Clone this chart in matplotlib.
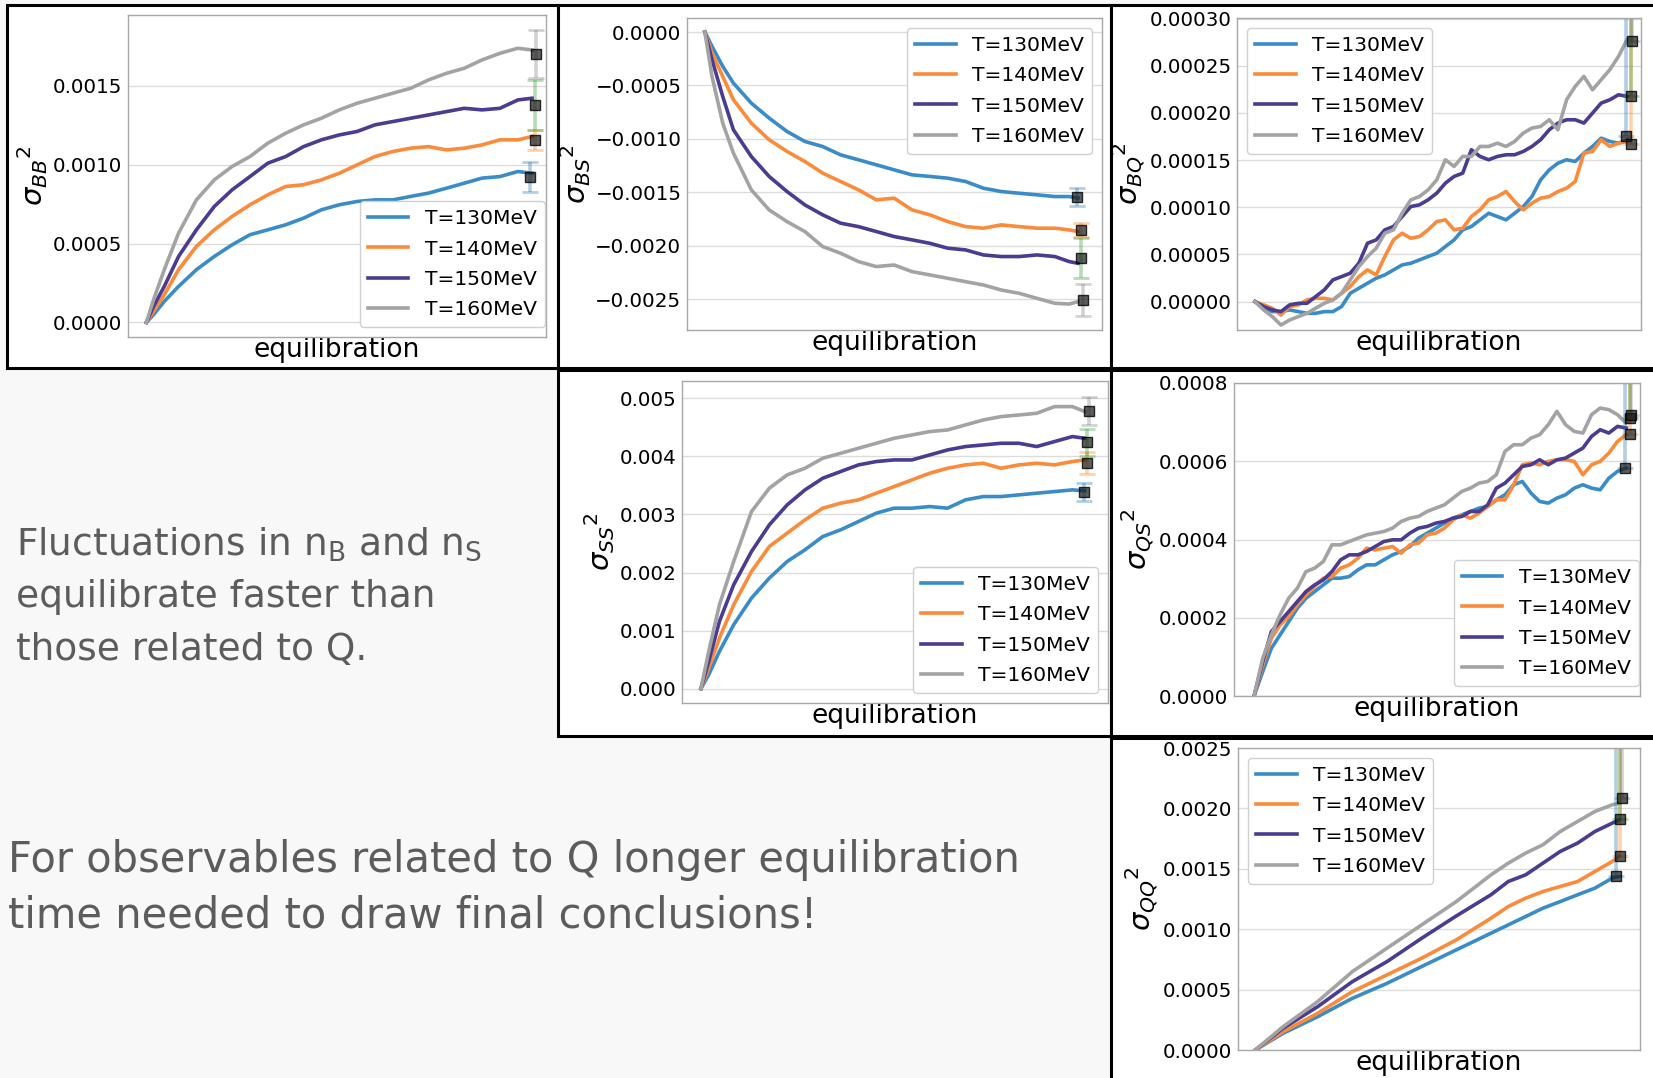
import matplotlib.pyplot as plt
from matplotlib.patches import Rectangle
from matplotlib.colors import to_rgba

temps = ['T=130MeV', 'T=140MeV', 'T=150MeV', 'T=160MeV']
line_cols = ['#3a8cc8', '#fb8b3a', '#4a3c90', '#a3a3a3']
err_cols = ['#1f77b4', '#ff7f0e', '#2ca02c', '#7f7f7f']

# sigma_BB^2
bb_x = [0, 20, 50, 90, 140, 190, 240, 290, 340, 390, 440, 490, 540, 590, 640, 690, 740, 790, 840, 890, 940, 990, 1040, 1080]
bb_130 = [0, 0.000049, 0.000133, 0.000228, 0.000334, 0.000418, 0.000492, 0.000556, 0.000587, 0.000619, 0.000661, 0.000714,
          0.000746, 0.000767, 0.000777, 0.000777, 0.000799, 0.000820, 0.000851, 0.000883, 0.000915, 0.000925, 0.000957, 0.000946]
bb_140 = [0, 0.000070, 0.000175, 0.000334, 0.000482, 0.000587, 0.000672, 0.000746, 0.000809, 0.000862, 0.000873, 0.000904,
          0.000946, 0.000999, 0.001052, 0.001084, 0.001105, 0.001115, 0.001094, 0.001105, 0.001126, 0.001158, 0.001158, 0.001179]
bb_150 = [0, 0.000101, 0.000228, 0.000418, 0.000587, 0.000735, 0.000841, 0.000925, 0.001010, 0.001052, 0.001115, 0.001158,
          0.001189, 0.001211, 0.001253, 0.001274, 0.001295, 0.001316, 0.001337, 0.001358, 0.001348, 0.001358, 0.001411, 0.001422]
bb_160 = [0, 0.000144, 0.000334, 0.000566, 0.000777, 0.000904, 0.000989, 0.001052, 0.001137, 0.001200, 0.001253, 0.001295,
          0.001348, 0.001390, 0.001422, 0.001454, 0.001485, 0.001538, 0.001580, 0.001612, 0.001665, 0.001707, 0.001739, 0.001728]
bb_end_x = [1075, 1087, 1087, 1090]
bb_end_y = [0.000925, 0.001158, 0.001380, 0.001703]
bb_end_err = [0.000095, 0.000063, 0.000158, 0.000152]

# sigma_BS^2
bs_x = [0, 20, 50, 80, 130, 180, 230, 280, 330, 380, 430, 480, 530, 580, 630, 680, 730, 780, 830, 880, 930, 980, 1020, 1045]
bs_130 = [0, -0.000134, -0.000321, -0.000478, -0.000665, -0.000805, -0.000930, -0.001024, -0.001071, -0.001149, -0.001195, -0.001242,
          -0.001289, -0.001336, -0.001351, -0.001367, -0.001398, -0.001461, -0.001492, -0.001508, -0.001523, -0.001539, -0.001539, -0.001554]
bs_140 = [0, -0.000197, -0.000415, -0.000634, -0.000852, -0.001008, -0.001117, -0.001211, -0.001320, -0.001398, -0.001476, -0.001570,
          -0.001554, -0.001664, -0.001710, -0.001773, -0.001820, -0.001835, -0.001804, -0.001820, -0.001835, -0.001835, -0.001851, -0.001866]
bs_150 = [0, -0.000259, -0.000602, -0.000915, -0.001164, -0.001351, -0.001492, -0.001617, -0.001710, -0.001788, -0.001820, -0.001866,
          -0.001913, -0.001944, -0.001976, -0.002022, -0.002038, -0.002085, -0.002100, -0.002100, -0.002085, -0.002100, -0.002147, -0.002163]
bs_160 = [0, -0.000415, -0.000852, -0.001133, -0.001476, -0.001664, -0.001773, -0.001866, -0.002007, -0.002069, -0.002147, -0.002194,
          -0.002179, -0.002241, -0.002272, -0.002303, -0.002335, -0.002366, -0.002413, -0.002444, -0.002491, -0.002537, -0.002544, -0.002522]
bs_end_x = [1042, 1053, 1053, 1058]
bs_end_y = [-0.001539, -0.001851, -0.002116, -0.002506]
bs_end_err = [0.000084, 0.000062, 0.000187, 0.000147]

# sigma_BQ^2
bq_x = [0, 25, 50, 75, 100, 125, 150, 175, 200, 225, 250, 275, 300, 325, 350, 375, 400, 425, 450, 475, 500, 525,
        550, 575, 600, 625, 650, 675, 700, 725, 750, 775, 800, 825, 850, 875, 900, 925, 950, 975, 1000, 1025, 1050, 1075]
bq_130 = [0, -0.0000071, -0.0000106, -0.0000106, -0.0000088, -0.0000106, -0.0000124, -0.0000124, -0.0000106, -0.0000106, -0.0000053,
          0.0000088, 0.0000142, 0.0000195, 0.0000248, 0.0000283, 0.0000336, 0.0000389, 0.0000407, 0.0000442, 0.0000478, 0.0000513,
          0.0000584, 0.0000654, 0.0000761, 0.0000796, 0.0000867, 0.0000937, 0.0000902, 0.0000867, 0.0000937, 0.0001008, 0.0001114,
          0.0001291, 0.0001397, 0.0001468, 0.0001504, 0.0001486, 0.0001574, 0.0001645, 0.0001733, 0.0001698, 0.0001680, 0.0001716]
bq_140 = [0, -0.0000035, -0.0000071, -0.0000142, -0.0000053, -0.0000035, 0.0000018, 0.0000035, 0.0000035, 0.0000018, 0.0000088,
          0.0000159, 0.0000265, 0.0000336, 0.0000283, 0.0000478, 0.0000654, 0.0000725, 0.0000672, 0.0000690, 0.0000761, 0.0000849,
          0.0000867, 0.0000761, 0.0000778, 0.0000902, 0.0000973, 0.0001079, 0.0001114, 0.0001167, 0.0001061, 0.0000973, 0.0001044,
          0.0001097, 0.0001114, 0.0001167, 0.0001203, 0.0001274, 0.0001574, 0.0001592, 0.0001716, 0.0001645, 0.0001680, 0.0001698]
bq_150 = [0, -0.0000053, -0.0000088, -0.0000106, -0.0000035, -0.0000018, -0.0000018, 0.0000053, 0.0000124, 0.0000230, 0.0000265,
          0.0000301, 0.0000407, 0.0000619, 0.0000654, 0.0000761, 0.0000796, 0.0000902, 0.0001008, 0.0001026, 0.0001079, 0.0001150,
          0.0001256, 0.0001327, 0.0001362, 0.0001610, 0.0001539, 0.0001504, 0.0001539, 0.0001557, 0.0001557, 0.0001592, 0.0001645,
          0.0001716, 0.0001822, 0.0001893, 0.0001928, 0.0001928, 0.0001893, 0.0001999, 0.0002105, 0.0002140, 0.0002193, 0.0002176]
bq_160 = [0, -0.0000088, -0.0000159, -0.0000248, -0.0000195, -0.0000159, -0.0000124, -0.0000071, -0.0000018, 0.0000018, 0.0000088,
          0.0000230, 0.0000371, 0.0000478, 0.0000566, 0.0000725, 0.0000761, 0.0000937, 0.0001079, 0.0001114, 0.0001185, 0.0001291,
          0.0001504, 0.0001433, 0.0001539, 0.0001539, 0.0001645, 0.0001645, 0.0001680, 0.0001645, 0.0001698, 0.0001787, 0.0001840,
          0.0001857, 0.0001928, 0.0001822, 0.0002140, 0.0002282, 0.0002388, 0.0002246, 0.0002353, 0.0002459, 0.0002600, 0.0002777]
bq_end_x = [1073, 1085, 1085, 1090]
bq_end_y = [0.0001751, 0.0001673, 0.0002176, 0.0002759]
bq_end_err = [0.0005, 0.0005, 0.0005, 0.0005]

# sigma_SS^2
ss_x = [0, 22, 52, 92, 142, 192, 242, 292, 342, 392, 442, 492, 542, 592, 642, 692, 742, 792, 842, 892, 942, 992, 1042, 1077]
ss_130 = [0, 0.000241, 0.000642, 0.001101, 0.001560, 0.001904, 0.002190, 0.002391, 0.002620, 0.002735, 0.002878, 0.003022,
          0.003108, 0.003108, 0.003136, 0.003108, 0.003251, 0.003308, 0.003308, 0.003337, 0.003366, 0.003394, 0.003423, 0.003406]
ss_140 = [0, 0.000356, 0.000872, 0.001445, 0.002018, 0.002448, 0.002678, 0.002907, 0.003108, 0.003194, 0.003251, 0.003366,
          0.003480, 0.003595, 0.003710, 0.003796, 0.003853, 0.003882, 0.003796, 0.003853, 0.003882, 0.003853, 0.003911, 0.003939]
ss_150 = [0, 0.000470, 0.001158, 0.001789, 0.002362, 0.002821, 0.003165, 0.003423, 0.003624, 0.003739, 0.003853, 0.003911,
          0.003939, 0.003939, 0.004025, 0.004111, 0.004169, 0.004197, 0.004226, 0.004226, 0.004169, 0.004255, 0.004341, 0.004312]
ss_160 = [0, 0.000642, 0.001445, 0.002190, 0.003050, 0.003452, 0.003681, 0.003796, 0.003968, 0.004054, 0.004140, 0.004226,
          0.004312, 0.004369, 0.004427, 0.004455, 0.004541, 0.004627, 0.004685, 0.004713, 0.004742, 0.004857, 0.004857, 0.004771]
ss_end_x = [1074, 1084, 1084, 1089]
ss_end_y = [0.003383, 0.003882, 0.004243, 0.004782]
ss_end_err = [0.000155, 0.000189, 0.000229, 0.000247]

# sigma_QS^2
qs_x = bq_x
qs_130 = [0, 0.0000623, 0.0001220, 0.0001561, 0.0001902, 0.0002243, 0.0002499, 0.0002670, 0.0002840, 0.0003011, 0.0003011,
          0.0003053, 0.0003224, 0.0003352, 0.0003352, 0.0003480, 0.0003608, 0.0003693, 0.0003821, 0.0004034, 0.0004162, 0.0004290,
          0.0004418, 0.0004546, 0.0004631, 0.0004716, 0.0004802, 0.0004844, 0.0005015, 0.0005143, 0.0005399, 0.0005484, 0.0005186,
          0.0004972, 0.0004930, 0.0005058, 0.0005143, 0.0005313, 0.0005399, 0.0005313, 0.0005271, 0.0005569, 0.0005740, 0.0005825]
qs_140 = [0, 0.0000793, 0.0001475, 0.0001817, 0.0002030, 0.0002328, 0.0002584, 0.0002797, 0.0003011, 0.0003053, 0.0003267,
          0.0003352, 0.0003522, 0.0003778, 0.0003736, 0.0003778, 0.0003821, 0.0003650, 0.0003864, 0.0003906, 0.0004119, 0.0004162,
          0.0004290, 0.0004503, 0.0004631, 0.0004546, 0.0004674, 0.0004844, 0.0005015, 0.0005015, 0.0005399, 0.0005910, 0.0005953,
          0.0005910, 0.0005996, 0.0006038, 0.0006038, 0.0005996, 0.0005655, 0.0005910, 0.0005996, 0.0006209, 0.0006507, 0.0006678]
qs_150 = [0, 0.0000878, 0.0001646, 0.0001902, 0.0002158, 0.0002414, 0.0002670, 0.0002840, 0.0002968, 0.0003181, 0.0003480,
          0.0003608, 0.0003608, 0.0003693, 0.0003821, 0.0003949, 0.0003991, 0.0003991, 0.0004162, 0.0004290, 0.0004333, 0.0004418,
          0.0004461, 0.0004546, 0.0004589, 0.0004716, 0.0004716, 0.0004887, 0.0005313, 0.0005441, 0.0005655, 0.0005868, 0.0005910,
          0.0006038, 0.0005910, 0.0006038, 0.0006081, 0.0006209, 0.0006337, 0.0006635, 0.0006806, 0.0006721, 0.0006891, 0.0006849]
qs_160 = [0, 0.0000964, 0.0001561, 0.0002072, 0.0002499, 0.0002755, 0.0003181, 0.0003267, 0.0003437, 0.0003864, 0.0003864,
          0.0003949, 0.0004034, 0.0004119, 0.0004162, 0.0004205, 0.0004290, 0.0004461, 0.0004546, 0.0004589, 0.0004716, 0.0004802,
          0.0004887, 0.0005058, 0.0005228, 0.0005313, 0.0005441, 0.0005484, 0.0005655, 0.0006252, 0.0006422, 0.0006422, 0.0006593,
          0.0006678, 0.0006934, 0.0007275, 0.0006934, 0.0006763, 0.0006721, 0.0007190, 0.0007360, 0.0007318, 0.0007190, 0.0006977]
qs_end_x = [1073, 1085, 1085, 1090]
qs_end_y = [0.0005825, 0.0006704, 0.0007104, 0.0007190]
qs_end_err = [0.0012, 0.0012, 0.0012, 0.0012]

# sigma_QQ^2
qq_x = [0, 80, 180, 280, 380, 480, 580, 680, 730, 780, 830, 880, 930, 980, 1030, 1050]
qq_130 = [0, 0.000138, 0.000276, 0.000428, 0.000552, 0.000691, 0.000829, 0.000967, 0.001036, 0.001105, 0.001174, 0.001229,
          0.001285, 0.001340, 0.001423, 0.001436]
qq_140 = [0, 0.000152, 0.000304, 0.000483, 0.000622, 0.000760, 0.000912, 0.001091, 0.001188, 0.001257, 0.001312, 0.001354,
          0.001395, 0.001478, 0.001561, 0.001602]
qq_150 = [0, 0.000180, 0.000359, 0.000566, 0.000732, 0.000925, 0.001110, 0.001285, 0.001395, 0.001450, 0.001547, 0.001644,
          0.001713, 0.001809, 0.001878, 0.001906]
qq_160 = [0, 0.000193, 0.000401, 0.000649, 0.000843, 0.001036, 0.001229, 0.001450, 0.001547, 0.001630, 0.001699, 0.001809,
          0.001892, 0.001975, 0.002030, 0.002044]
qq_end_x = [1042, 1053, 1053, 1058]
qq_end_y = [0.001442, 0.001608, 0.001914, 0.002086]
qq_end_err = [0.003, 0.003, 0.003, 0.003]

W, H = 1653, 1078
fig = plt.figure(figsize=(W / 100, H / 100), dpi=100)
fig.patch.set_facecolor('#f8f8f8')


def px_rect(l, t, r, b):
    return [l / W, 1 - b / H, (r - l) / W, (b - t) / H]


# white framed boxes behind each plot
for l, t, r, b in [(7, 5, 558, 368), (558, 5, 1111, 368), (1111, 5, 1665, 368),
                   (558, 370, 1111, 736), (1111, 370, 1665, 736), (1111, 738, 1665, 1095)]:
    x0, y0, w, h = px_rect(l, t, r, b)
    fig.add_artist(Rectangle((x0, y0), w, h, transform=fig.transFigure, fc='white',
                             ec='black', lw=2.2, zorder=-1))


def panel(rect, x, series, ex, ey, eerr, ylab, yticks, ylim, xlim, legloc, upper_only=False, flush=False):
    ax = fig.add_axes(px_rect(*rect))
    for y, c, lab in zip(series, line_cols, temps):
        ax.plot(x, y, color=c, lw=2.6, label=lab)
    for i in range(4):
        yerr = [[0], [eerr[i]]] if upper_only else eerr[i]
        ax.errorbar(ex[i], ey[i], yerr=yerr, fmt='s', ms=6.5, mfc=(0.1, 0.1, 0.1, 0.7),
                    mec=(0, 0, 0, 0.8), ecolor=to_rgba(err_cols[i], 0.35), elinewidth=2.6,
                    capsize=5.5, capthick=2)
    ax.set_xlim(xlim)
    ax.set_ylim(ylim)
    ax.set_xticks([])
    ax.set_yticks(yticks)
    ax.tick_params(axis='y', length=0, labelsize=14.3, pad=4)
    ax.grid(axis='y', color='#dcdcdc', lw=1)
    ax.set_axisbelow(True)
    for s in ax.spines.values():
        s.set_color('#a8a8a8')
        s.set_linewidth(1)
    ax.set_xlabel('equilibration', fontsize=19, labelpad=0)
    ax.set_ylabel(ylab, fontsize=21, labelpad=2)
    leg_kw = dict(fontsize=14.6, labelspacing=0.55, frameon=True, edgecolor='#d0d0d0', framealpha=1)
    if flush:
        # legend pushed against the right frame, small gap at the bottom
        hpx = rect[3] - rect[1]
        ax.legend(loc='lower right', bbox_to_anchor=(0.997, 10 / hpx), borderaxespad=0, **leg_kw)
    else:
        ax.legend(loc=legloc, **leg_kw)
    return ax


panel((127.5, 15, 546, 337), bb_x, [bb_130, bb_140, bb_150, bb_160], bb_end_x, bb_end_y, bb_end_err,
      r'${\sigma_{BB}}^2$', [0, 0.0005, 0.0010, 0.0015], (-0.000093, 0.00195), (-53, 1119), 'lower right',
      flush=True)
panel((687, 18, 1102, 330), bs_x, [bs_130, bs_140, bs_150, bs_160], bs_end_x, bs_end_y, bs_end_err,
      r'${\sigma_{BS}}^2$', [-0.0025, -0.0020, -0.0015, -0.0010, -0.0005, 0], (-0.002787, 0.000131), (-50, 1112),
      'upper right')
panel((1237, 18, 1641, 330), bq_x, [bq_130, bq_140, bq_150, bq_160], bq_end_x, bq_end_y, bq_end_err,
      r'${\sigma_{BQ}}^2$', [0, 0.00005, 0.0001, 0.00015, 0.0002, 0.00025, 0.0003], (-0.0000301, 0.0003007),
      (-52, 1115), 'upper left', upper_only=True)
panel((682, 381, 1108, 703), ss_x, [ss_130, ss_140, ss_150, ss_160], ss_end_x, ss_end_y, ss_end_err,
      r'${\sigma_{SS}}^2$', [0, 0.001, 0.002, 0.003, 0.004, 0.005], (-0.000247, 0.005298), (-53, 1142), 'lower right')
panel((1234, 383, 1640, 696), qs_x, [qs_130, qs_140, qs_150, qs_160], qs_end_x, qs_end_y, qs_end_err,
      r'${\sigma_{QS}}^2$', [0, 0.0002, 0.0004, 0.0006, 0.0008], (0, 0.0008), (-58, 1115), 'lower right',
      upper_only=True, flush=True)
panel((1238, 748, 1640, 1050), qq_x, [qq_130, qq_140, qq_150, qq_160], qq_end_x, qq_end_y, qq_end_err,
      r'${\sigma_{QQ}}^2$', [0, 0.0005, 0.001, 0.0015, 0.002, 0.0025], (0, 0.0025), (-50, 1110), 'upper left',
      upper_only=True)

txt = dict(family=['DejaVu Sans'], color='#5c5c5c', transform=fig.transFigure, va='baseline')
fig.text(16 / W, 1 - 555 / H, r'Fluctuations in n$_\mathregular{B}$ and n$_\mathregular{S}$', fontsize=27, **txt)
fig.text(16 / W, 1 - 607 / H, 'equilibrate faster than', fontsize=27, **txt)
fig.text(16 / W, 1 - 660 / H, 'those related to Q.', fontsize=27, **txt)
fig.text(8 / W, 1 - 872 / H, 'For observables related to Q longer equilibration', fontsize=30, **txt)
fig.text(8 / W, 1 - 927 / H, 'time needed to draw final conclusions!', fontsize=30, **txt)

fig.savefig('out.png', dpi=100, facecolor=fig.get_facecolor())
